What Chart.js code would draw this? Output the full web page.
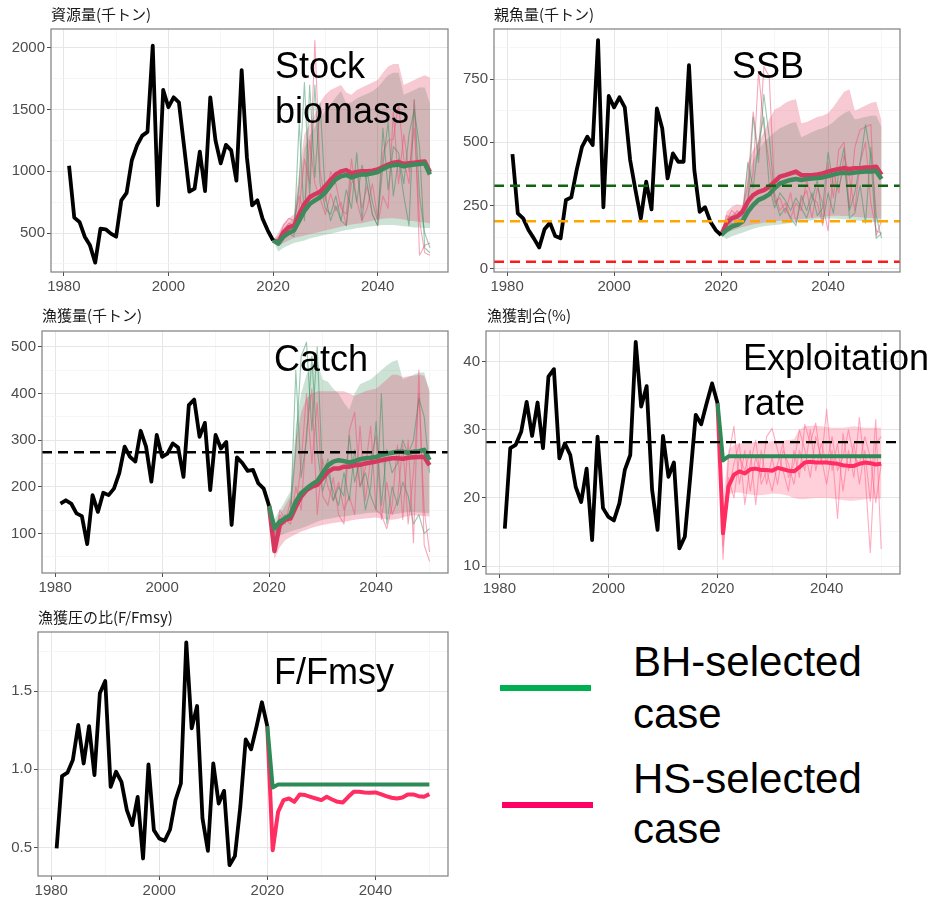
<!DOCTYPE html>
<html lang="ja">
<head>
<meta charset="utf-8">
<title>資源量・親魚量・漁獲量・漁獲割合・漁獲圧の比</title>
<script src="https://cdn.jsdelivr.net/npm/chart.js@4.4.1/dist/chart.umd.min.js"></script>
<style>
html,body{margin:0;padding:0;background:#fff;}
body{position:relative;width:934px;height:897px;overflow:hidden;font-family:"Liberation Sans",Arial,sans-serif;}
canvas{position:absolute;}
.ttl{position:absolute;font-family:"Noto Sans CJK JP","Noto Sans",sans-serif;font-size:15px;line-height:15px;color:#1a1a1a;white-space:nowrap;z-index:2;}
.lbl{position:absolute;font-size:36px;line-height:36px;color:#000;white-space:nowrap;z-index:3;}
.leg{position:absolute;font-size:42px;line-height:42px;color:#000;white-space:nowrap;}
.key{position:absolute;height:6px;width:91px;}
</style>
</head>
<body>
<canvas id="cBiomass"></canvas>
<canvas id="cSSB"></canvas>
<canvas id="cCatch"></canvas>
<canvas id="cRate"></canvas>
<canvas id="cF"></canvas>

<div class="ttl" style="left:51px;top:6px;">資源量(千トン)</div>
<div class="ttl" style="left:494px;top:6px;">親魚量(千トン)</div>
<div class="ttl" style="left:42px;top:307px;">漁獲量(千トン)</div>
<div class="ttl" style="left:487px;top:307px;">漁獲割合(%)</div>
<div class="ttl" style="left:38px;top:609px;">漁獲圧の比(F/Fmsy)</div>

<div class="lbl" style="left:275px;top:48px;">Stock</div>
<div class="lbl" style="left:275px;top:93px;">biomass</div>
<div class="lbl" style="left:732px;top:48px;">SSB</div>
<div class="lbl" style="left:274px;top:341px;">Catch</div>
<div class="lbl" style="left:743px;top:340px;">Exploitation</div>
<div class="lbl" style="left:743px;top:385px;">rate</div>
<div class="lbl" style="left:274px;top:654px;">F/Fmsy</div>

<div class="key" style="left:500px;top:685px;background:#00B050;"></div>
<div class="leg" style="left:633px;top:641px;">BH-selected</div>
<div class="leg" style="left:633px;top:693px;">case</div>
<div class="key" style="left:502px;top:802px;background:#FF0066;"></div>
<div class="leg" style="left:633px;top:758px;">HS-selected</div>
<div class="leg" style="left:633px;top:808px;">case</div>

<script>
// ---- years ----
const HIST_YEARS = [];
for (let y = 1981; y <= 2020; y++) HIST_YEARS.push(y);
const PROJ_YEARS = [];
for (let y = 2020; y <= 2050; y++) PROJ_YEARS.push(y);

// ---- stock biomass (千トン) ----
const biomassHist = [1045, 625, 590, 470, 400, 260, 535, 530, 495, 470,
  765, 825, 1090, 1210, 1290, 1320, 2020, 725, 1660, 1520,
  1600, 1560, 1200, 835, 860, 1160, 840, 1600, 1250, 1065,
  1215, 1170, 925, 1820, 1115, 725, 765, 615, 520, 440];
const biomassHS = [440, 425, 505, 545, 560, 650, 735, 790, 815, 835, 880,
  930, 975, 1000, 1010, 985, 995, 1000, 1000, 1005, 1015,
  1035, 1055, 1070, 1075, 1060, 1065, 1070, 1075, 1080, 995];
const biomassBH = [440, 415, 470, 500, 520, 600, 680, 735, 765, 790, 830,
  885, 935, 960, 970, 950, 965, 975, 975, 985, 995,
  1020, 1040, 1050, 1055, 1040, 1050, 1055, 1060, 1065, 975];
const biomassHSHi = [440, 500, 580, 620, 650, 1000, 1300, 1380, 1460, 1560, 1620,
  1660, 1680, 1700, 1640, 1620, 1660, 1680, 1700, 1720, 1740,
  1800, 1850, 1870, 1870, 1700, 1720, 1740, 1760, 1780, 1760];
const biomassHSLo = [440, 390, 420, 440, 460, 470, 480, 490, 500, 510, 520,
  530, 540, 550, 560, 570, 575, 580, 590, 600, 610,
  615, 620, 620, 615, 610, 600, 595, 590, 585, 580];
const biomassBHHi = [440, 480, 540, 580, 620, 900, 1190, 1290, 1360, 1430, 1490,
  1540, 1600, 1650, 1550, 1560, 1590, 1610, 1630, 1650, 1680,
  1730, 1780, 1800, 1800, 1620, 1640, 1660, 1680, 1680, 1550];
const biomassBHLo = [440, 350, 380, 400, 420, 430, 440, 455, 465, 475, 485,
  495, 505, 515, 525, 530, 540, 545, 550, 555, 560,
  565, 565, 565, 560, 555, 550, 545, 545, 540, 540];
const biomassSimHS1 = [440, 440, 520, 580, 560, 700, 1100, 900, 2060, 1000, 760,
  1000, 900, 700, 650, 1100, 760, 600, 700, 900, 620,
  1150, 1250, 1260, 1550, 1100, 900, 1580, 320, 400, 420];
const biomassSimHS2 = [440, 450, 560, 620, 600, 800, 650, 1250, 900, 780, 650,
  820, 680, 750, 560, 900, 1000, 700, 880, 650, 560,
  800, 700, 1480, 900, 1300, 1000, 1350, 600, 340, 320];
const biomassSimBH1 = [440, 420, 480, 520, 530, 900, 1720, 800, 1700, 900, 700,
  650, 800, 600, 560, 1000, 750, 1050, 900, 650, 560,
  1350, 850, 1200, 1150, 900, 1300, 1500, 1200, 380, 340];
const biomassSimBH2 = [440, 400, 460, 500, 470, 1400, 600, 1700, 950, 1550, 800,
  600, 720, 600, 850, 700, 1150, 600, 1000, 750, 600,
  1050, 1400, 800, 1100, 800, 560, 1580, 800, 500, 380];

// ---- spawning stock biomass (千トン) ----
const ssbHist = [453, 219, 199, 153, 120, 84, 156, 182, 129, 120,
  272, 282, 390, 482, 522, 489, 904, 243, 683, 638,
  678, 638, 430, 311, 199, 344, 235, 634, 555, 357,
  456, 423, 423, 805, 390, 225, 243, 186, 153, 133];
const ssbHS = [133, 179, 199, 206, 225, 265, 291, 304, 311, 324, 344,
  364, 370, 377, 384, 370, 370, 370, 373, 377, 384,
  390, 394, 397, 394, 397, 397, 400, 400, 403, 372];
const ssbBH = [133, 153, 166, 173, 186, 225, 252, 272, 281, 294, 318,
  337, 344, 351, 355, 351, 355, 357, 359, 361, 366,
  372, 377, 379, 377, 380, 382, 384, 384, 386, 355];
const ssbHSHi = [133, 225, 245, 255, 250, 420, 470, 500, 540, 590, 630,
  640, 655, 665, 670, 575, 580, 590, 600, 605, 615,
  640, 670, 700, 710, 625, 635, 645, 655, 660, 585];
const ssbHSLo = [133, 140, 150, 158, 165, 170, 175, 178, 182, 185, 188,
  190, 192, 194, 196, 197, 199, 201, 203, 205, 208,
  209, 209, 208, 207, 205, 204, 202, 201, 200, 199];
const ssbBHHi = [133, 200, 215, 225, 230, 350, 430, 470, 500, 520, 540,
  555, 565, 575, 580, 520, 530, 540, 550, 555, 565,
  580, 600, 615, 625, 590, 595, 600, 605, 605, 560];
const ssbBHLo = [133, 118, 128, 135, 142, 150, 158, 164, 168, 171, 173,
  175, 178, 181, 184, 186, 189, 192, 195, 197, 199,
  199, 198, 196, 194, 192, 190, 188, 186, 184, 183];
const ssbSimHS1 = [133, 190, 230, 210, 240, 330, 620, 450, 800, 760, 300,
  230, 260, 200, 260, 230, 350, 280, 260, 170, 420,
  280, 470, 500, 240, 480, 550, 560, 570, 130, 190];
const ssbSimHS2 = [133, 210, 200, 230, 200, 280, 380, 780, 560, 420, 260,
  280, 220, 300, 180, 270, 310, 200, 320, 260, 150,
  380, 300, 450, 360, 230, 420, 500, 260, 150, 140];
const ssbSimBH1 = [133, 160, 180, 170, 190, 250, 600, 420, 690, 520, 280,
  210, 240, 200, 170, 290, 230, 300, 210, 240, 460,
  330, 320, 410, 230, 300, 420, 570, 440, 120, 140];
const ssbSimBH2 = [133, 150, 170, 190, 200, 420, 320, 500, 600, 330, 240,
  300, 270, 230, 280, 240, 200, 270, 350, 180, 300,
  220, 380, 480, 200, 220, 330, 180, 480, 210, 120];
const ssbTarget = 328;   // 目標管理基準値
const ssbLimit = 188;    // 限界管理基準値
const ssbBan = 28;       // 禁漁水準

// ---- catch (千トン) ----
const catchHist = [164, 171, 164, 143, 137, 77, 182, 146, 187, 182,
  196, 229, 286, 264, 254, 320, 286, 211, 311, 264,
  271, 293, 284, 221, 375, 387, 307, 337, 193, 311,
  282, 296, 118, 263, 251, 234, 236, 207, 196, 159];
const catchHS = [159, 62, 118, 129, 132, 157, 179, 193, 200, 204, 218,
  232, 239, 239, 243, 243, 246, 247, 250, 252, 254,
  257, 259, 261, 261, 260, 262, 263, 264, 264, 246];
const catchBH = [159, 111, 125, 132, 139, 168, 186, 196, 205, 212, 229,
  246, 254, 257, 255, 252, 255, 259, 261, 262, 264,
  268, 271, 273, 275, 275, 273, 275, 276, 279, 257];
const catchHSHi = [159, 110, 140, 160, 180, 300, 360, 390, 400, 405, 405,
  405, 405, 405, 405, 400, 395, 400, 405, 408, 410,
  420, 430, 440, 440, 435, 437, 438, 440, 438, 405];
const catchHSLo = [159, 45, 70, 85, 92, 98, 104, 108, 112, 115, 118,
  120, 122, 124, 125, 127, 129, 131, 132, 133, 134,
  132, 130, 129, 131, 134, 137, 139, 138, 137, 136];
const catchBHHi = [159, 130, 150, 170, 190, 330, 400, 440, 460, 470, 430,
  425, 410, 400, 380, 365, 400, 420, 425, 430, 440,
  450, 460, 468, 472, 430, 435, 440, 445, 445, 405];
const catchBHLo = [159, 90, 95, 100, 104, 108, 111, 115, 120, 125, 129,
  131, 133, 135, 136, 138, 140, 141, 143, 144, 145,
  144, 142, 141, 142, 144, 146, 146, 145, 144, 143];
const catchSimHS1 = [159, 60, 140, 120, 170, 150, 250, 400, 250, 380, 180,
  160, 220, 140, 120, 320, 360, 200, 240, 330, 150,
  140, 110, 160, 290, 130, 300, 80, 450, 75, 40];
const catchSimHS2 = [159, 80, 150, 130, 120, 200, 150, 320, 410, 140, 260,
  200, 170, 210, 150, 180, 140, 330, 170, 260, 310,
  130, 210, 140, 170, 290, 120, 230, 400, 150, 60];
const catchSimBH1 = [159, 110, 130, 125, 150, 280, 480, 510, 320, 500, 220,
  260, 170, 200, 180, 310, 210, 260, 150, 200, 340,
  160, 280, 230, 250, 300, 270, 300, 390, 350, 230];
const catchSimBH2 = [159, 100, 120, 140, 130, 450, 220, 300, 480, 280, 190,
  230, 190, 160, 230, 170, 280, 200, 230, 180, 150,
  400, 120, 200, 160, 210, 180, 120, 140, 100, 110];
const catchMSY = 274;

// ---- exploitation rate (%) ----
const rateHist = [15.5, 27.3, 27.8, 29.7, 34.1, 29.1, 34.0, 27.3, 37.8, 38.9,
  25.8, 28.0, 26.3, 21.6, 19.4, 24.3, 13.8, 29.0, 18.5, 17.2,
  16.7, 19.2, 24.1, 26.3, 42.9, 33.4, 36.4, 21.2, 15.3, 29.1,
  23.1, 25.2, 12.6, 14.3, 23.1, 32.2, 30.8, 33.9, 36.8, 33.9];
const rateHS = [33.9, 14.8, 21.7, 23.4, 23.9, 23.6, 24.2, 24.3, 24.1, 24.1, 24.0,
  24.4, 24.2, 24.0, 23.9, 24.5, 25.2, 25.3, 25.2, 25.2, 25.2,
  25.1, 25.0, 24.8, 24.7, 24.7, 25.0, 25.2, 25.1, 24.9, 25.0];
const rateBH = [33.9, 25.5, 26.1, 26.1, 26.1, 26.1, 26.1, 26.1, 26.1, 26.1, 26.1,
  26.1, 26.1, 26.1, 26.1, 26.1, 26.1, 26.1, 26.1, 26.1, 26.1,
  26.1, 26.1, 26.1, 26.1, 26.1, 26.1, 26.1, 26.1, 26.1, 26.1];
const rateHSHi = [33.9, 19.5, 27.0, 27.8, 28.0, 28.0, 28.1, 28.2, 28.2, 28.3, 28.3,
  28.4, 28.4, 28.5, 28.6, 30.0, 30.5, 30.6, 30.6, 30.5, 30.4,
  30.3, 30.3, 30.3, 30.4, 30.5, 30.4, 30.3, 30.3, 30.3, 30.3];
const rateHSLo = [33.9, 11.5, 20.5, 20.8, 20.8, 20.6, 20.5, 20.4, 20.4, 20.5, 20.6,
  20.6, 20.5, 20.3, 20.0, 19.8, 19.8, 19.9, 20.0, 20.0, 20.0,
  19.9, 19.8, 19.7, 19.6, 19.6, 19.7, 19.8, 19.9, 19.9, 19.9];
const rateSimHS1 = [33.9, 11, 26, 30.5, 22, 27, 21, 26, 23, 29, 30.2,
  27, 24, 21, 27, 23, 30.8, 28, 31, 25, 33,
  24, 28, 21, 27, 23, 31.8, 24, 12, 28, 29];
const rateSimHS2 = [33.9, 13, 21, 25, 28, 19, 25, 28.5, 22, 24, 21,
  25, 28, 23, 25, 30, 27, 23, 29, 26, 22,
  27, 17, 29.5, 24, 28, 22, 27, 19.5, 31.5, 12.5];
const rateSimHS3 = [33.9, 16, 23, 20, 26, 24, 27, 19, 27, 22, 26,
  22, 27, 25, 22, 27, 24, 30, 24, 28, 25,
  29, 24, 26, 30, 26, 25, 29, 26, 19.3, 25];
const rateMSY = 28.2;

// ---- F/Fmsy ----
const fHist = [0.494, 0.956, 0.978, 1.059, 1.283, 1.037, 1.276, 0.963, 1.485, 1.564,
  0.888, 0.984, 0.920, 0.739, 0.643, 0.824, 0.430, 1.031, 0.611, 0.558,
  0.543, 0.615, 0.803, 0.909, 1.811, 1.261, 1.404, 0.686, 0.479, 1.037,
  0.781, 0.862, 0.387, 0.445, 0.760, 1.191, 1.127, 1.272, 1.428, 1.276];
const fHS = [1.276, 0.483, 0.728, 0.803, 0.813, 0.792, 0.839, 0.835, 0.824, 0.813, 0.803,
  0.824, 0.807, 0.792, 0.788, 0.824, 0.856, 0.856, 0.852, 0.850, 0.852,
  0.841, 0.828, 0.818, 0.813, 0.820, 0.839, 0.839, 0.828, 0.824, 0.841];
const fBH = [1.276, 0.884, 0.903, 0.903, 0.903, 0.903, 0.903, 0.903, 0.903, 0.903, 0.903,
  0.903, 0.903, 0.903, 0.903, 0.903, 0.903, 0.903, 0.903, 0.903, 0.903,
  0.903, 0.903, 0.903, 0.903, 0.903, 0.903, 0.903, 0.903, 0.903, 0.903];

// ---- drawing ----
const X_MIN = 1977.55, X_MAX = 2053.45;
const PAD = 12, X_AXIS_H = 26;
const FONT = '"Liberation Sans", Arial, sans-serif';

const C = {
  hist: '#000000',
  hsDark: '#d8385f', bhDark: '#3d8a5c',
  hsBright: '#ff2d62', bhBright: '#2e8b57',
  hsThin: 'rgba(240,80,120,0.5)', bhThin: 'rgba(50,145,95,0.5)',
  hsBand: 'rgba(225,75,110,0.30)', bhBand: 'rgba(46,139,87,0.25)',
  hsBandRate: 'rgba(255,120,150,0.35)', hsThinRate: 'rgba(255,90,130,0.5)'
};

function pts(years, vals) { return vals.map((v, i) => ({ x: years[i], y: v })); }

function lineDs(data, color, width, extra) {
  return Object.assign({
    data, borderColor: color, borderWidth: width, pointRadius: 0,
    fill: false, tension: 0, borderJoinStyle: 'round', borderCapStyle: 'butt'
  }, extra || {});
}
const hist = vals => lineDs(pts(HIST_YEARS, vals), C.hist, 3.8);
const proj = (vals, color, w) => lineDs(pts(PROJ_YEARS, vals), color, w);
function band(hi, lo, color) {
  return [
    lineDs(pts(PROJ_YEARS, hi), 'rgba(0,0,0,0)', 0, { fill: '+1', backgroundColor: color }),
    lineDs(pts(PROJ_YEARS, lo), 'rgba(0,0,0,0)', 0)
  ];
}
function hline(v, color, width) {
  return lineDs([{ x: X_MIN, y: v }, { x: X_MAX, y: v }], color, width, { borderDash: [10, 6] });
}

function isMajor(v, major) {
  const r = v / major;
  return Math.abs(r - Math.round(r)) < 1e-6;
}

// evenly spaced ticks on multiples of the step inside [min, max]
function stepTicks(min, max, step) {
  return s => {
    const out = [];
    for (let k = Math.ceil(min / step - 1e-9); k * step <= max + 1e-9; k++) {
      out.push({ value: Math.round(k * step * 1e6) / 1e6 });
    }
    s.ticks = out;
  };
}

function gridOpts(major) {
  return {
    color: c => (c.tick && isMajor(c.tick.value, major)) ? '#e6e6e6' : '#f2f2f2',
    lineWidth: c => (c.tick && isMajor(c.tick.value, major)) ? 1 : 0.7,
    tickLength: 4,
    tickColor: c => (c.tick && isMajor(c.tick.value, major)) ? '#4d4d4d' : 'rgba(0,0,0,0)'
  };
}

const panelFrame = {
  id: 'panelFrame',
  afterDatasetsDraw(chart) {
    const { ctx, chartArea: a } = chart;
    ctx.save();
    ctx.strokeStyle = '#7f7f7f';
    ctx.lineWidth = 1.2;
    ctx.strokeRect(a.left, a.top, a.right - a.left, a.bottom - a.top);
    ctx.restore();
  }
};

function makePanel(p) {
  const cv = document.getElementById(p.id);
  cv.width = p.w; cv.height = p.h;
  cv.style.left = p.left + 'px'; cv.style.top = p.top + 'px';
  cv.style.width = p.w + 'px'; cv.style.height = p.h + 'px';
  new Chart(cv, {
    type: 'line',
    data: { datasets: p.datasets },
    options: {
      responsive: false, animation: false, events: [],
      devicePixelRatio: 1,
      layout: { padding: { top: PAD, right: PAD, left: 0, bottom: 0 } },
      plugins: { legend: { display: false }, tooltip: { enabled: false }, title: { display: false } },
      scales: {
        x: {
          type: 'linear', min: X_MIN, max: X_MAX,
          afterFit: s => { s.height = X_AXIS_H; },
          afterBuildTicks: stepTicks(X_MIN, X_MAX, 10),
          ticks: {
            autoSkip: false, maxRotation: 0,
            color: '#4d4d4d', font: { family: FONT, size: 15 }, padding: 2,
            callback: v => isMajor(v, 20) ? String(v) : ''
          },
          grid: gridOpts(20),
          border: { display: false }
        },
        y: {
          type: 'linear', min: p.y.min, max: p.y.max,
          afterFit: s => { s.width = p.axisW; },
          afterBuildTicks: stepTicks(p.y.min, p.y.max, p.y.step),
          ticks: {
            autoSkip: false,
            color: '#4d4d4d', font: { family: FONT, size: 15 }, padding: 2,
            callback: v => isMajor(v, p.y.major) ? p.y.fmt(v) : ''
          },
          grid: gridOpts(p.y.major),
          border: { display: false }
        }
      }
    },
    plugins: [panelFrame]
  });
}

const intLabel = v => String(Math.round(v));

makePanel({
  id: 'cBiomass', left: 0, top: 17, w: 460, h: 281, axisW: 51,
  y: { min: 184, max: 2154, step: 250, major: 500, fmt: intLabel },
  datasets: [
    hist(biomassHist),
    proj(biomassBH, C.bhDark, 4.5),
    proj(biomassHS, C.hsDark, 4.5),
    proj(biomassSimBH1, C.bhThin, 1.1),
    proj(biomassSimHS1, C.hsThin, 1.1),
    proj(biomassSimBH2, C.bhThin, 1.1),
    proj(biomassSimHS2, C.hsThin, 1.1),
    ...band(biomassHSHi, biomassHSLo, C.hsBand),
    ...band(biomassBHHi, biomassBHLo, C.bhBand)
  ]
});

makePanel({
  id: 'cSSB', left: 460, top: 17, w: 452, h: 281, axisW: 34,
  y: { min: -13, max: 948, step: 125, major: 250, fmt: intLabel },
  datasets: [
    hline(ssbTarget, '#0f640f', 2.5),
    hline(ssbLimit, '#ffa500', 2.5),
    hline(ssbBan, '#ff1a1a', 2.5),
    hist(ssbHist),
    proj(ssbBH, C.bhDark, 4.5),
    proj(ssbHS, C.hsDark, 4.5),
    proj(ssbSimBH1, C.bhThin, 1.1),
    proj(ssbSimHS1, C.hsThin, 1.1),
    proj(ssbSimBH2, C.bhThin, 1.1),
    proj(ssbSimHS2, C.hsThin, 1.1),
    ...band(ssbHSHi, ssbHSLo, C.hsBand),
    ...band(ssbBHHi, ssbBHLo, C.bhBand)
  ]
});

makePanel({
  id: 'cCatch', left: 0, top: 319, w: 460, h: 280, axisW: 42,
  y: { min: 15, max: 534, step: 50, major: 100, fmt: intLabel },
  datasets: [
    hline(catchMSY, '#000000', 2.3),
    hist(catchHist),
    proj(catchBH, C.bhDark, 4.5),
    proj(catchHS, C.hsDark, 4.5),
    proj(catchSimBH1, C.bhThin, 1.1),
    proj(catchSimHS1, C.hsThin, 1.1),
    proj(catchSimBH2, C.bhThin, 1.1),
    proj(catchSimHS2, C.hsThin, 1.1),
    ...band(catchHSHi, catchHSLo, C.hsBand),
    ...band(catchBHHi, catchBHLo, C.bhBand)
  ]
});

makePanel({
  id: 'cRate', left: 460, top: 319, w: 452, h: 281, axisW: 26,
  y: { min: 8.83, max: 44.5, step: 5, major: 10, fmt: intLabel },
  datasets: [
    hline(rateMSY, '#000000', 2.3),
    hist(rateHist),
    proj(rateBH, C.bhBright, 4),
    proj(rateHS, C.hsBright, 4),
    proj(rateSimHS1, C.hsThinRate, 1.1),
    proj(rateSimHS2, C.hsThinRate, 1.1),
    proj(rateSimHS3, C.hsThinRate, 1.1),
    ...band(rateHSHi, rateHSLo, C.hsBandRate)
  ]
});

makePanel({
  id: 'cF', left: 0, top: 620, w: 460, h: 282, axisW: 38,
  y: { min: 0.318, max: 1.877, step: 0.25, major: 0.5, fmt: v => v.toFixed(1) },
  datasets: [
    hist(fHist),
    proj(fBH, C.bhBright, 4),
    proj(fHS, C.hsBright, 4)
  ]
});
</script>
</body>
</html>
